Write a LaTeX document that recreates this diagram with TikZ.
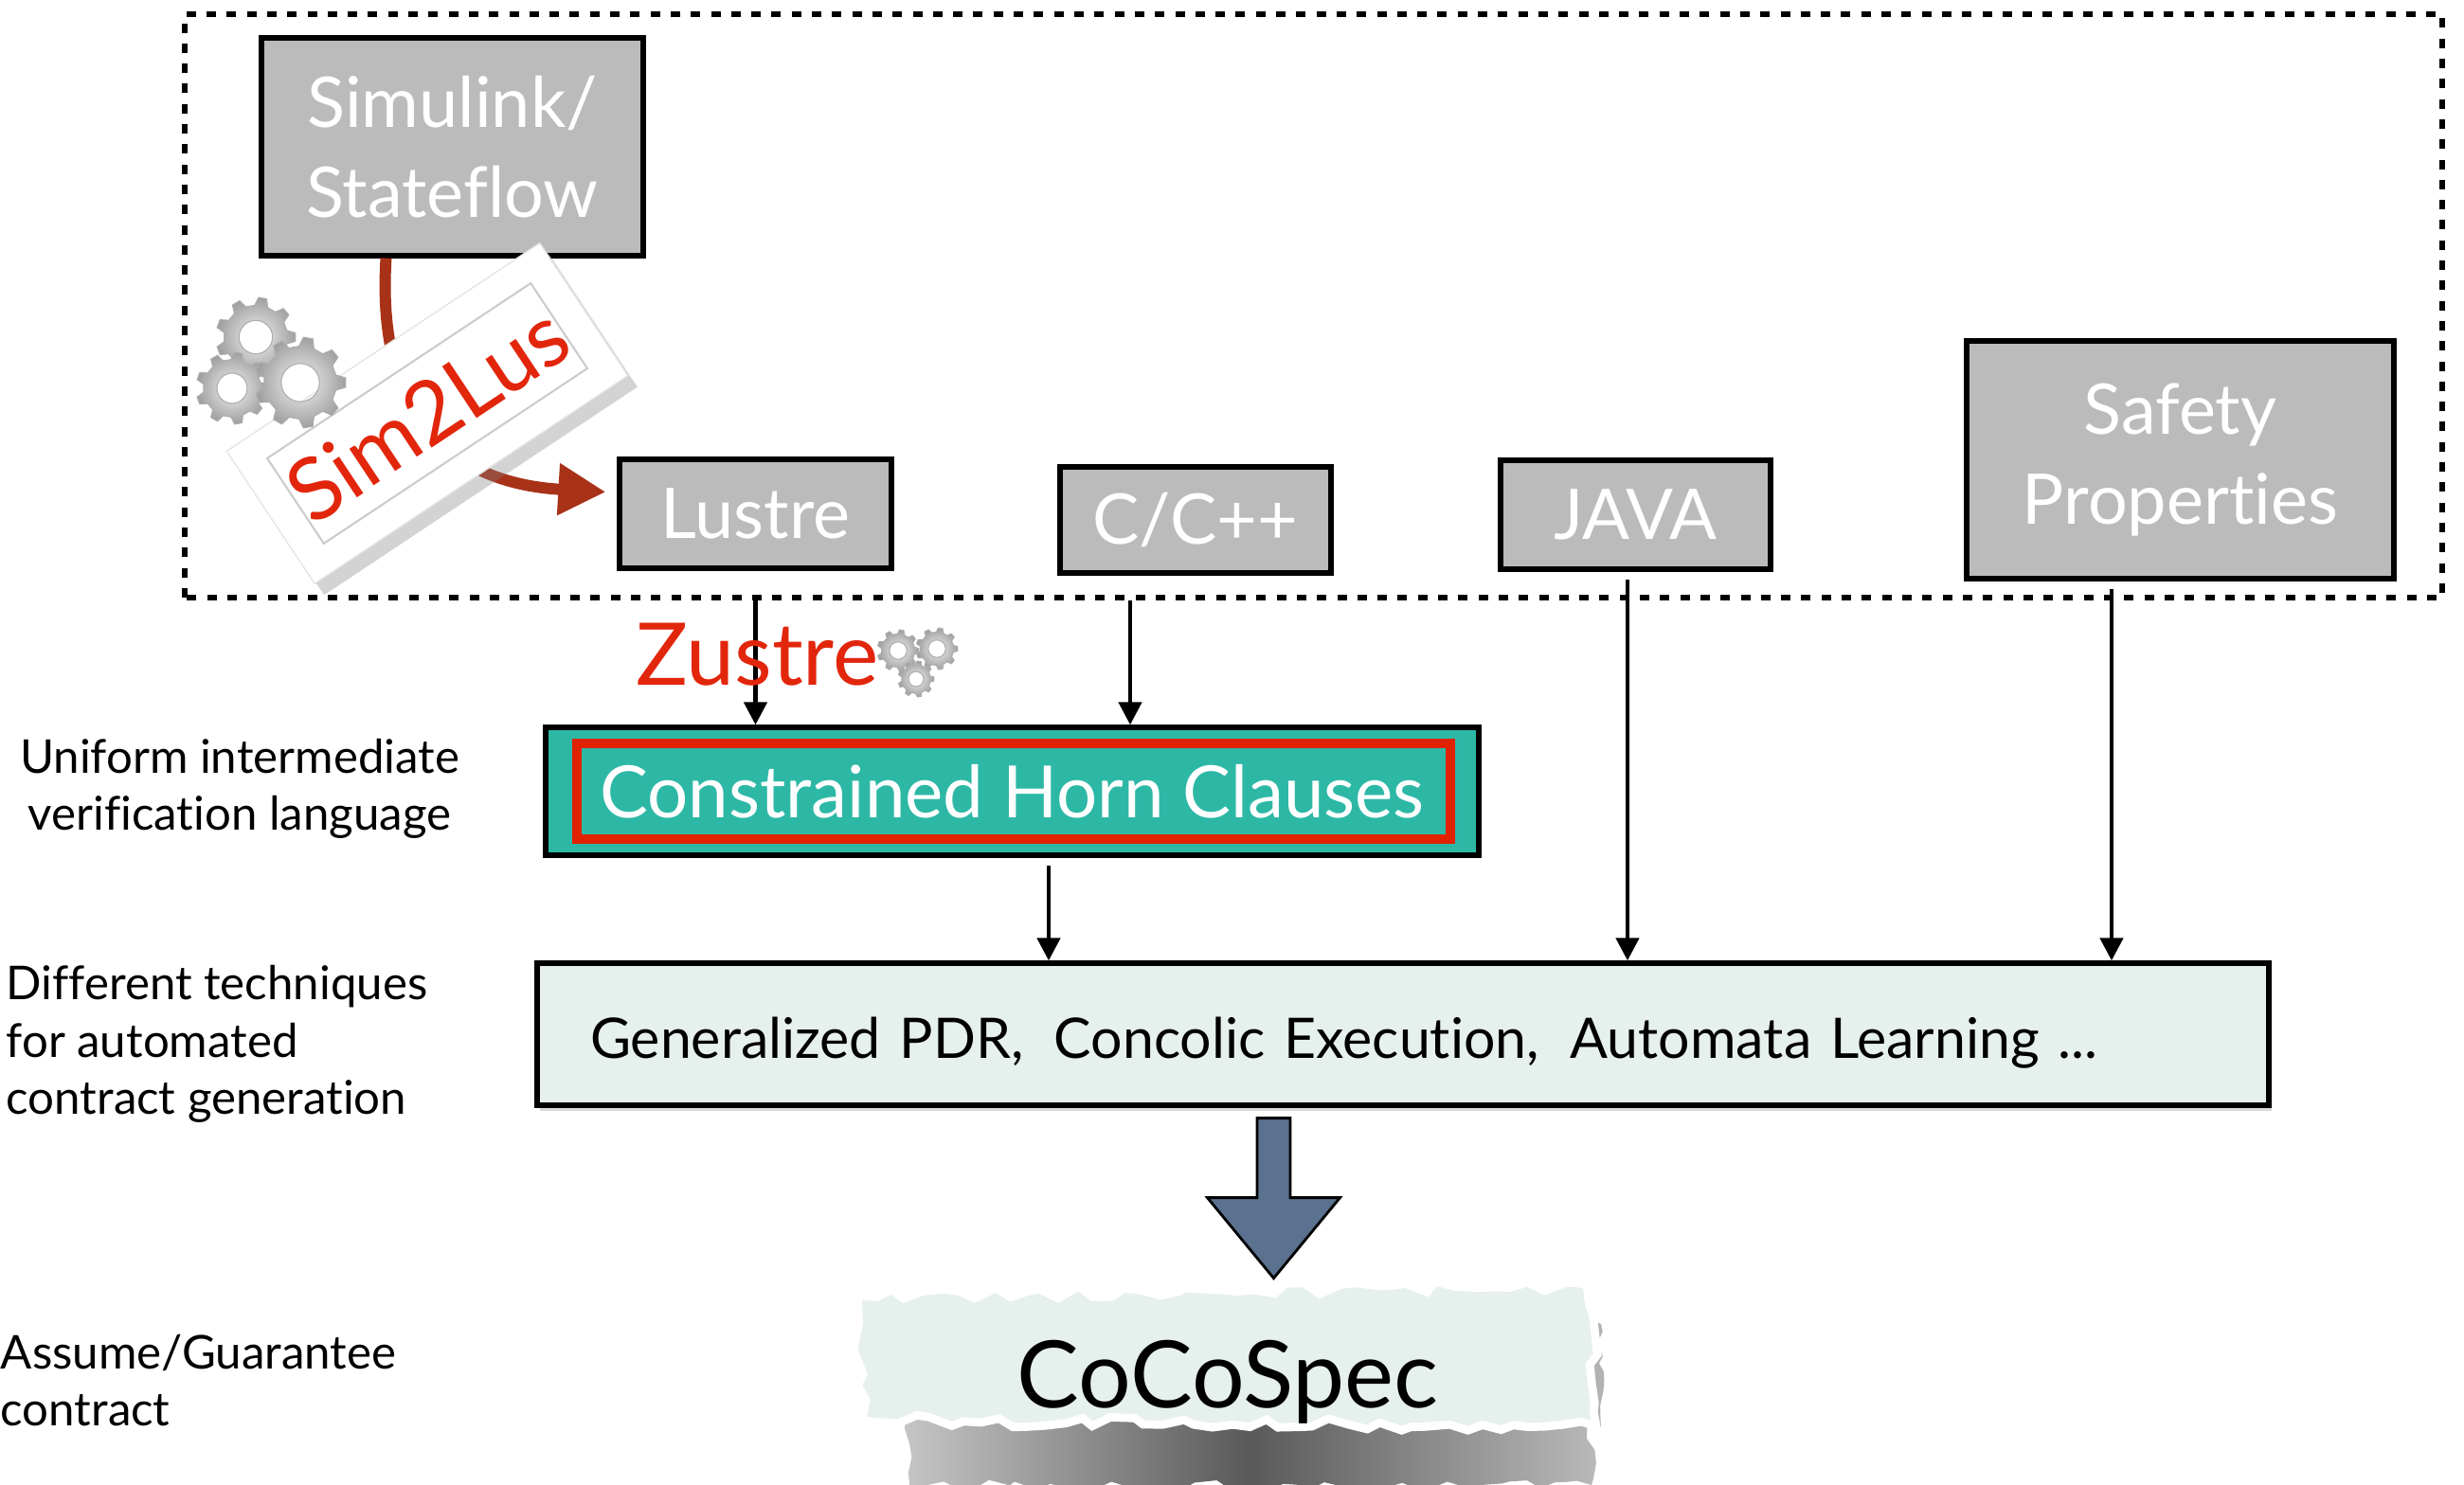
\documentclass[tikz,border=0pt]{standalone}
\usepackage{fontspec}
\setmainfont{Lato}[Ligatures=NoCommon]
\usetikzlibrary{arrows.meta,shadows,decorations.pathmorphing}

\definecolor{boxgray}{HTML}{BBBBBB}
\definecolor{hornteal}{HTML}{2DB8A6}
\definecolor{hornred}{HTML}{E02200}
\definecolor{mint}{HTML}{E6F0EC}
\definecolor{rust}{HTML}{A83218}
\definecolor{toolred}{HTML}{E2260C}
\definecolor{steel}{HTML}{5B7190}

\begin{document}
\begin{tikzpicture}
    % Define styles
    \tikzstyle{lang} = [rectangle, draw=black, line width=1.5pt, fill=boxgray, text=white, align=center, inner sep=0pt, font=\fontsize{21}{27}\selectfont]
    \tikzstyle{tag} = [inner sep=0pt, font=\fontsize{14}{17.3}\selectfont]
    \tikzstyle{tool} = [text=toolred, inner sep=0pt, font=\fontsize{26}{30}\selectfont]
    \tikzstyle{arrow} = [line width=1.3pt, -{Triangle[length=0.24cm, width=0.24cm]}]
    \tikzstyle{transl} = [rust, line width=3.4pt, -{Triangle[length=0.5cm, width=0.52cm]}]
    \tikzset{pics/cog/.style={code={
        \shade[inner color=gray!10, outer color=gray!75, draw=gray!65, line width=0.3pt, even odd rule]
            (-6:1) \foreach \a in {0,40,...,320}{ -- (\a+6:1) -- (\a+12:0.8) -- (\a+28:0.8) -- (\a+34:1)} -- cycle
            (0,0) circle (0.42);
    }}}
    \pgfmathsetseed{7}

    \useasboundingbox (0,0) rectangle (26.01,15.68);

    % Source languages
    \draw[dash pattern=on 0.1cm off 0.113cm, line width=1.5pt] (1.95,9.37) rectangle (25.78,15.53);
    \node (sim) [lang, minimum width=4.03cm, minimum height=2.30cm] at (4.775,14.13) {Simulink/\\Stateflow};
    \node (lustre) [lang, minimum width=2.87cm, minimum height=1.15cm] at (7.975,10.255) {Lustre};
    \node (cpp) [lang, minimum width=2.86cm, minimum height=1.12cm] at (12.62,10.19) {C/C++};
    \node (java) [lang, minimum width=2.85cm, minimum height=1.15cm] at (17.265,10.245) {JAVA};
    \node (safety) [lang, minimum width=4.51cm, minimum height=2.51cm] at (23.015,10.825) {Safety\\Properties};

    % Sim2Lus translation
    \draw [transl] ([xshift=-0.7cm]sim.south) .. controls +(-0.12,-1.9) and +(-1.4,0.08) .. ([xshift=-0.12cm,yshift=0.23cm]lustre.west);
    \node (sim2lus) [tool, rotate=33.6, minimum width=3.97cm, minimum height=1.68cm, fill=white, draw=gray!20, drop shadow={shadow xshift=0.1cm, shadow yshift=-0.12cm, opacity=0.35}] at (4.51,11.315) {Sim2Lus};
    \begin{scope}[shift={(sim2lus.center)}, rotate=33.6]
        \draw[gray!40, line width=0.6pt] (-1.67,-0.54) rectangle (1.67,0.54);
    \end{scope}
    \pic[scale=0.42] at (2.70,12.12) {cog};
    \pic[scale=0.38] at (2.45,11.58) {cog};
    \pic[scale=0.48] at (3.17,11.64) {cog};

    % Intermediate language
    \node (chc) [rectangle, draw=black, line width=1.5pt, fill=hornteal, text=white, minimum width=9.85cm, minimum height=1.35cm, font=\fontsize{21.7}{26}\selectfont] at (10.685,7.325) {Constrained Horn Clauses};
    \draw[hornred, line width=2.8pt] ([shift={(0.36,-0.2)}]chc.north west) rectangle ([shift={(-0.33,0.2)}]chc.south east);

    \draw [arrow] ([yshift=-0.31cm]lustre.south) -- (lustre |- chc.north);
    \draw [arrow] ([xshift=-0.69cm,yshift=-0.26cm]cpp.south) -- ([xshift=-0.69cm]cpp.south |- chc.north);
    \node (zustre) [tool, anchor=base west] at (6.71,8.44) {Zustre};
    \pic[scale=0.22] at (9.48,8.81) {cog};
    \pic[scale=0.22] at (9.89,8.83) {cog};
    \pic[scale=0.19] at (9.67,8.51) {cog};

    % Contract generation
    \node (gen) [rectangle, draw=black, line width=1.5pt, fill=mint, text width=17.16cm, inner xsep=0.56cm, minimum height=1.5cm, text height=0.52cm, text depth=0pt, align=left, font=\fontsize{16.8}{20}\selectfont, drop shadow={shadow xshift=0.03cm, shadow yshift=-0.06cm, opacity=0.3}] at (14.81,4.76) {Generalized PDR,\hspace{0.55em}Concolic Execution,\hspace{0.55em}Automata Learning ...};

    \draw [arrow] ([xshift=0.385cm,yshift=-0.08cm]chc.south) -- ([xshift=0.385cm]chc.south |- gen.north);
    \draw [arrow] ([xshift=-0.085cm,yshift=-0.08cm]java.south) -- ([xshift=-0.085cm]java.south |- gen.north);
    \draw [arrow] ([xshift=-0.725cm,yshift=-0.08cm]safety.south) -- ([xshift=-0.725cm]safety.south |- gen.north);

    % Result
    \coordinate (flow) at ([xshift=-1.365cm,yshift=-0.11cm]gen.south);
    \filldraw[fill=steel, draw=black, line width=0.8pt] (flow) ++(-0.175,0) -- ++(0.35,0) -- ++(0,-0.84) -- ++(0.525,0) -- ++(-0.70,-0.85) -- ++(-0.70,0.85) -- ++(0.525,0) -- cycle;

    \shade[left color=gray!45, right color=gray!55, middle color=black!65, decorate, decoration={random steps, segment length=4pt, amplitude=1.5pt}] (9.6,0) -- (9.6,0.8) -- (16.8,0.8) -- (16.8,0) -- cycle;
    \fill[gray!60, decorate, decoration={random steps, segment length=3pt, amplitude=1pt}] (16.6,0.6) -- (16.6,1.75) -- (16.9,1.7) -- (16.9,0.6) -- cycle;
    \fill[mint, draw=white, line width=2.5pt, decorate, decoration={random steps, segment length=5pt, amplitude=1.8pt}] (9.05,2.00) -- (16.75,2.12) -- (16.85,0.62) -- (9.10,0.68) -- cycle;
    \node (cocospec) [anchor=base, inner sep=0pt, font=\fontsize{28}{32}\selectfont] at (12.96,0.81) {CoCoSpec};

    % Layer labels
    \node (ivl) [tag, align=center, anchor=base] at (2.53,6.91) {Uniform intermediate\\verification language};
    \node (tech) [tag, align=left, anchor=base west] at (0.06,3.91) {Different techniques\\for automated\\contract generation};
    \node (ag) [tag, align=left, anchor=base west] at (0.0,0.62) {Assume/Guarantee\\contract};
\end{tikzpicture}
\end{document}
